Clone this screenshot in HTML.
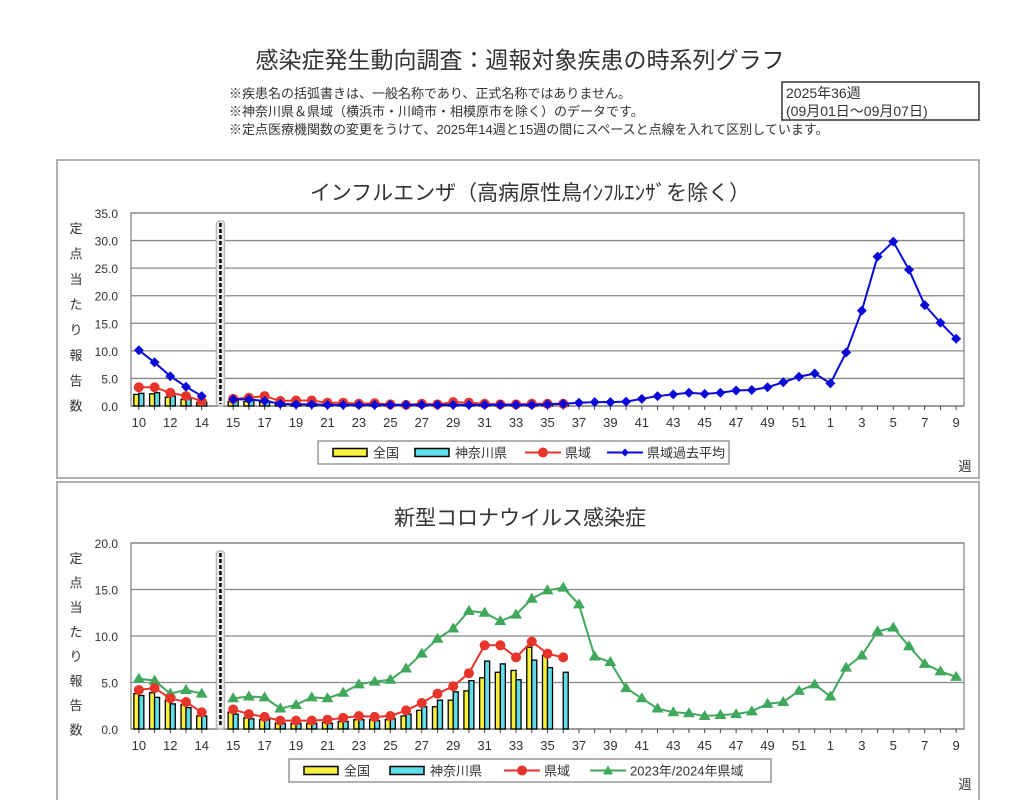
<!DOCTYPE html>
<html><head><meta charset="utf-8">
<style>
body{margin:0;background:#fff;width:1036px;height:800px;overflow:hidden;font-family:"Liberation Sans","Noto Sans CJK JP",sans-serif;}
svg{position:absolute;left:0;top:0}
text{font-family:"Liberation Sans","Noto Sans CJK JP",sans-serif;fill:#333}
</style></head><body>
<svg id="s" width="1036" height="800">
<text x="520" y="68" text-anchor="middle" font-size="23">感染症発生動向調査：週報対象疾患の時系列グラフ</text>
<text x="229" y="98" font-size="13">※疾患名の括弧書きは、一般名称であり、正式名称ではありません。</text>
<text x="229" y="116" font-size="13">※神奈川県＆県域（横浜市・川崎市・相模原市を除く）のデータです。</text>
<text x="229" y="134" font-size="13">※定点医療機関数の変更をうけて、2025年14週と15週の間にスペースと点線を入れて区別しています。</text>
<rect x="782" y="82" width="197" height="38" fill="none" stroke="#333" stroke-width="1.5"/>
<text x="786" y="98" font-size="14">2025年36週</text>
<text x="786" y="116" font-size="14">(09月01日～09月07日)</text>
<rect x="57" y="160" width="922" height="318" fill="none" stroke="#999" stroke-width="1.5"/>
<rect x="57" y="482" width="922" height="330" fill="none" stroke="#999" stroke-width="1.5"/>
<text x="530" y="200" text-anchor="middle" font-size="21">インフルエンザ（高病原性鳥ｲﾝﾌﾙｴﾝｻﾞを除く）</text>
<text x="520" y="525" text-anchor="middle" font-size="21">新型コロナウイルス感染症</text>
<g id="c1"></g><g id="c2"></g>
</svg>
<script>
const weeks=[10,11,12,13,14,null,15,16,17,18,19,20,21,22,23,24,25,26,27,28,29,30,31,32,33,34,35,36,37,38,39,40,41,42,43,44,45,46,47,48,49,50,51,52,1,2,3,4,5,6,7,8,9];
const tickLabels=[10,12,14,15,17,19,21,23,25,27,29,31,33,35,37,39,41,43,45,47,49,51,1,3,5,7,9];
const fluNational=[2.1,2.2,1.6,1.2,0.6,null,0.8,0.8,0.7,0.3,0.3,0.3,0.2,0.2,0.2,0.2,0.1,0.1,0.1,0.1,0.2,0.2,0.1,0.1,0.1,0.1,0.1];
const fluKanagawa=[2.3,2.4,1.8,1.4,0.7,null,1.0,1.0,0.9,0.4,0.4,0.4,0.3,0.3,0.2,0.2,0.2,0.1,0.2,0.1,0.3,0.3,0.2,0.1,0.1,0.2,0.2,0.2];
const fluPref=[3.4,3.4,2.4,1.8,0.9,null,1.3,1.5,1.8,0.9,1.0,1.0,0.6,0.6,0.4,0.5,0.3,0.2,0.4,0.3,0.7,0.6,0.4,0.3,0.3,0.4,0.4,0.4];
const fluPast=[10.1,7.9,5.4,3.5,1.8,null,1.2,1.2,0.9,0.4,0.3,0.3,0.2,0.2,0.2,0.2,0.2,0.2,0.2,0.2,0.2,0.2,0.2,0.2,0.2,0.2,0.3,0.4,0.6,0.7,0.7,0.8,1.3,1.8,2.1,2.4,2.2,2.4,2.8,2.9,3.4,4.3,5.3,5.9,4.1,9.7,17.3,27.1,29.8,24.7,18.3,15.1,12.2];
const fluTicks=[0,5,10,15,20,25,30,35];
const covNational=[3.8,3.9,3.1,2.6,1.4,null,1.8,1.2,1.0,0.6,0.6,0.6,0.7,0.8,1.0,1.0,1.0,1.4,2.0,2.4,3.1,4.1,5.5,6.1,6.3,8.8,7.9,null];
const covKanagawa=[3.6,3.4,2.7,2.3,1.4,null,1.6,1.1,1.0,0.6,0.6,0.6,0.6,0.8,1.0,0.9,1.1,1.6,2.4,3.1,4.0,5.2,7.3,7.0,5.3,7.4,6.6,6.1];
const covPref=[4.2,4.4,3.3,2.9,1.8,null,2.1,1.6,1.3,0.9,0.9,0.9,1.0,1.2,1.4,1.3,1.4,2.0,2.8,3.8,4.6,6.0,9.0,9.0,7.7,9.4,8.1,7.7];
const covPrev=[5.4,5.2,3.8,4.2,3.8,null,3.3,3.5,3.4,2.2,2.6,3.4,3.3,3.9,4.8,5.1,5.3,6.5,8.1,9.7,10.8,12.7,12.5,11.6,12.3,14.0,14.9,15.2,13.4,7.8,7.2,4.4,3.3,2.2,1.8,1.7,1.4,1.5,1.6,1.9,2.7,2.9,4.1,4.8,3.5,6.6,7.9,10.5,10.9,8.9,7.0,6.2,5.6];
const covTicks=[0,5,10,15,20];

const NS='http://www.w3.org/2000/svg';
function mk(p,tag,at){const e=document.createElementNS(NS,tag);for(const k in at)e.setAttribute(k,at[k]);p.appendChild(e);return e;}
function chart(g,cfg){
  const x0=131,x1=964,slot=(x1-x0)/weeks.length;
  const xs=i=>x0+slot*(i+0.5);
  const ys=v=>cfg.yb-(v/cfg.max)*(cfg.yb-cfg.yt);
  cfg.ticks.forEach(t=>{
    const y=ys(t);
    const l=mk(g,'line',{x1:x0,x2:x1,y1:y,y2:y,stroke:t===0?'#444':'#888','stroke-width':1.3});
    
    
    const tx=mk(g,'text',{x:118,y:y+5,'text-anchor':'end','font-size':12,'font-family':'Liberation Mono'});
    tx.textContent=t.toFixed(1);
    
    
  });
  const r=mk(g,'rect',{x:x0,y:cfg.yt,width:x1-x0,height:cfg.yb-cfg.yt,fill:'none',stroke:'#666'});
  
  
  const ylab='定点当たり報告数';
  for(let i=0;i<ylab.length;i++){const t=mk(g,'text',{x:76,y:cfg.yt+20+i*((cfg.yb-cfg.yt+10)/8),'text-anchor':'middle','font-size':13});t.textContent=ylab[i];
    
    }
  weeks.forEach((w,i)=>{
    if(w===null)return;
    const tk=mk(g,'line',{x1:xs(i),x2:xs(i),y1:cfg.yb,y2:cfg.yb+4,stroke:'#444'});
    
    
    if(tickLabels.includes(w)&&!(w===15&&i<5)){
      const t=mk(g,'text',{x:xs(i),y:cfg.yb+21,'text-anchor':'middle','font-size':13});t.textContent=w;
      
      }
  });
  const gi=weeks.indexOf(null);
  const dx=xs(gi)+3;
  const d1=mk(g,'rect',{x:dx-4,y:cfg.yt+8,width:8,height:cfg.yb-cfg.yt-8,rx:3,fill:'#eee',stroke:'#bbb','stroke-width':1.5});
  
  
  const d2=mk(g,'line',{x1:dx,x2:dx,y1:cfg.yt+10,y2:cfg.yb-2,stroke:'#000','stroke-width':2.5,'stroke-dasharray':'4,2'});
  
  
  const bw=5;
  [[cfg.nat,'#f6f03a',-bw],[cfg.kan,'#5fdde8',0]].forEach(([arr,col,off],si)=>{
    arr.forEach((v,i)=>{if(v===null)return;
      const b=mk(g,'rect',{x:xs(i)+off,y:ys(v),width:bw,height:cfg.yb-ys(v),fill:col,stroke:'#000','stroke-width':1.3});
      
      });
  });
  cfg.lines.forEach(L=>{
    let seg=[];const segs=[];
    L.data.forEach((v,i)=>{if(v===null){if(seg.length)segs.push(seg);seg=[];}else seg.push([xs(i),ys(v)]);});
    if(seg.length)segs.push(seg);
    segs.forEach(s=>{const p=mk(g,'polyline',{points:s.map(q=>q.join(',')).join(' '),fill:'none',stroke:L.col,'stroke-width':2});
      
      });
    L.data.forEach((v,i)=>{if(v===null)return;const x=xs(i),y=ys(v);let m;
      if(L.mark==='circle')m=mk(g,'circle',{cx:x,cy:y,r:5,fill:L.col});
      else if(L.mark==='diamond')m=mk(g,'polygon',{points:`${x},${y-5} ${x+5},${y} ${x},${y+5} ${x-5},${y}`,fill:L.col});
      else m=mk(g,'polygon',{points:`${x},${y-6} ${x+6},${y+4} ${x-6},${y+4}`,fill:L.col});
      
      });
  });
  const lg=mk(g,'g',{});
  
  
  const lb=mk(lg,'rect',{x:cfg.lx,y:cfg.ly,width:cfg.lw,height:23,fill:'#fff',stroke:'#888','stroke-width':1.3});
  
  
  let cx=cfg.lx+15;const cy=cfg.ly+11.5;
  cfg.legend.forEach(it=>{
    const e=mk(lg,'g',{});
    
    
    if(it.type==='bar')mk(e,'rect',{x:cx,y:cy-4,width:34,height:8,fill:it.col,stroke:'#000','stroke-width':1.5});
    else{mk(e,'line',{x1:cx,x2:cx+36,y1:cy,y2:cy,stroke:it.col,'stroke-width':2});
      const x=cx+18;
      if(it.mark==='circle')mk(e,'circle',{cx:x,cy:cy,r:5,fill:it.col});
      else if(it.mark==='diamond')mk(e,'polygon',{points:`${x},${cy-4} ${x+4},${cy} ${x},${cy+4} ${x-4},${cy}`,fill:it.col});
      else mk(e,'polygon',{points:`${x},${cy-5} ${x+5},${cy+4} ${x-5},${cy+4}`,fill:it.col});}
    const t=mk(e,'text',{x:cx+40,y:cy+5,'font-size':13});t.textContent=it.label;
    cx+=it.w;
  });
  const wk=mk(g,'text',{x:965,y:cfg.ly+30,'font-size':13,'text-anchor':'middle'});wk.textContent='週';
  
  
}
chart(document.getElementById('c1'),{yt:213,yb:406,max:35,ticks:fluTicks,nat:fluNational,kan:fluKanagawa,
  lines:[{data:fluPref,col:'#e8352c',mark:'circle',name:'prefecture'},{data:fluPast,col:'#0a0ad8',mark:'diamond',name:'past-average'}],
  lx:318,ly:441,lw:411,
  legend:[{type:'bar',col:'#f6f03a',label:'全国',w:82},{type:'bar',col:'#5fdde8',label:'神奈川県',w:110},{type:'line',col:'#e8352c',mark:'circle',label:'県域',w:82},{type:'line',col:'#0a0ad8',mark:'diamond',label:'県域過去平均',w:120}]});
chart(document.getElementById('c2'),{yt:543,yb:729,max:20,ticks:covTicks,nat:covNational,kan:covKanagawa,
  lines:[{data:covPrev,col:'#3fa85a',mark:'tri',name:'prev-season'},{data:covPref,col:'#e8352c',mark:'circle',name:'prefecture'}],
  lx:289,ly:759,lw:482,
  legend:[{type:'bar',col:'#f6f03a',label:'全国',w:86},{type:'bar',col:'#5fdde8',label:'神奈川県',w:114},{type:'line',col:'#e8352c',mark:'circle',label:'県域',w:86},{type:'line',col:'#3fa85a',mark:'tri',label:'2023年/2024年県域',w:160}]});
</script>
</body></html>
